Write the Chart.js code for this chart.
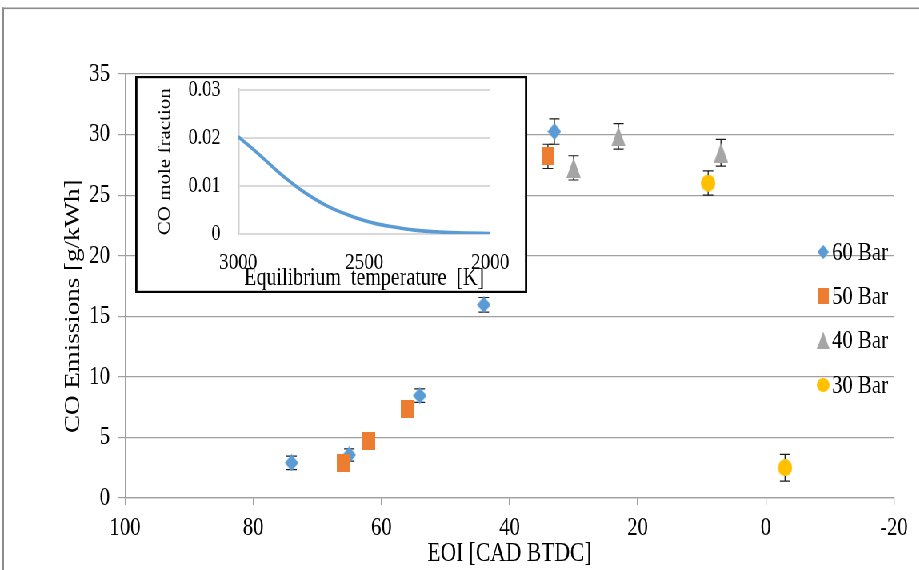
<!DOCTYPE html>
<html>
<head>
<meta charset="utf-8">
<script src="https://cdn.jsdelivr.net/npm/chart.js@4.4.1/dist/chart.umd.min.js"></script>
<style>
html, body { margin: 0; padding: 0; overflow: hidden; background: #fff; width: 919px; height: 570px; }
#wrap { position: absolute; left: 0; top: 0; width: 1149px; height: 570px; transform: scaleX(0.8); transform-origin: 0 0; }
#main { position: absolute; left: 0; top: 0; }
#inset { position: absolute; left: 168.75px; top: 76px; }
</style>
</head>
<body>
<div id="wrap">
  <canvas id="main" width="1149" height="570"></canvas>
  <canvas id="inset" width="490" height="217"></canvas>
</div>
<script>
// ---------------- data ----------------
const seriesLabels = ['60 Bar', '50 Bar', '40 Bar', '30 Bar'];

const eoi60 = [74, 65, 54, 44, 33];
const co60  = [2.9, 3.55, 8.45, 15.95, 30.25];
const err60 = [0.55, 0.5, 0.55, 0.6, 1.05];

const eoi50 = [66, 62, 56, 34];
const co50  = [2.9, 4.7, 7.35, 28.2];
const err50 = [0.4, 0.4, 0.4, 1.0];

const eoi40 = [30, 23, 7];
const co40  = [27.25, 29.85, 28.5];
const err40 = [1.0, 1.05, 1.1];

const eoi30 = [9, -3];
const co30  = [26.0, 2.5];
const err30 = [1.0, 1.1];

const xTicks = [100, 80, 60, 40, 20, 0, -20];
const xTickLabels = ['100', '80', '60', '40', '20', '0', '-20'];
const yTicks = [0, 5, 10, 15, 20, 25, 30, 35];
const yTickLabels = ['0', '5', '10', '15', '20', '25', '30', '35'];

// inset: CO mole fraction vs equilibrium temperature
const insetTemp = [3000, 2950, 2900, 2850, 2800, 2750, 2700, 2650, 2600, 2550, 2500, 2450, 2400, 2300, 2200, 2100, 2000];
const insetFrac = [0.0202, 0.0180, 0.0157, 0.0133, 0.0111, 0.0091, 0.0074, 0.0059, 0.0047, 0.0037, 0.0028, 0.0021, 0.0016, 0.0008, 0.0004, 0.0002, 0.0001];
const insetXTicks = [3000, 2500, 2000];
const insetXTickLabels = ['3000', '2500', '2000'];
const insetYTicks = [0, 0.01, 0.02, 0.03];
const insetYTickLabels = ['0', '0.01', '0.02', '0.03'];

// ---------------- styling ----------------
const SERIF = "'Liberation Serif', 'Times New Roman', serif";
const GRID = '#a0a0a0';
const C60 = '#5b9bd5', C50 = '#ed7d31', C40 = '#a5a5a5', C30 = '#ffc000';

function makeMarker(shape, w, h, color) {
  const c = document.createElement('canvas');
  c.width = w; c.height = h;
  const g = c.getContext('2d');
  g.fillStyle = color;
  g.beginPath();
  if (shape === 'diamond') { g.moveTo(w / 2, 0); g.lineTo(w, h / 2); g.lineTo(w / 2, h); g.lineTo(0, h / 2); }
  else if (shape === 'square') { g.rect(0, 0, w, h); }
  else if (shape === 'triangle') { g.moveTo(w / 2, 0); g.lineTo(w, h); g.lineTo(0, h); }
  else { g.ellipse(w / 2, h / 2, w / 2, h / 2, 0, 0, Math.PI * 2); }
  g.closePath();
  g.fill();
  return c;
}
const mk60 = makeMarker('diamond', 17, 17, C60);
const mk50 = makeMarker('square', 16, 18, C50);
const mk40 = makeMarker('triangle', 18, 20, C40);
const mk30 = makeMarker('circle', 18, 17, C30);

function pts(xs, ys) { return xs.map((x, i) => ({ x: x, y: ys[i] })); }

// ---------------- plugins ----------------
const background = {
  id: 'background',
  beforeDraw(chart) {
    const ctx = chart.ctx;
    ctx.save();
    ctx.fillStyle = '#ffffff';
    ctx.fillRect(0, 0, chart.width, chart.height);
    ctx.restore();
  }
};

const frame = {
  id: 'frame',
  afterDraw(chart) {
    const ctx = chart.ctx;
    ctx.save();
    ctx.fillStyle = '#8c8c8c';
    ctx.fillRect(3, 7.5, chart.width - 3, 1.6);
    ctx.fillRect(3, 7.5, 2, chart.height - 7.5);
    ctx.restore();
  }
};

const errorBars = {
  id: 'errorBars',
  beforeDatasetsDraw(chart) {
    const ctx = chart.ctx, xs = chart.scales.x, ys = chart.scales.y;
    ctx.save();
    ctx.strokeStyle = '#1a1a1a';
    chart.data.datasets.forEach(ds => {
      ds.data.forEach((p, j) => {
        const e = ds.errors[j];
        const px = xs.getPixelForValue(p.x);
        const top = ys.getPixelForValue(p.y + e);
        const bot = ys.getPixelForValue(p.y - e);
        ctx.lineWidth = 1.3;
        ctx.beginPath(); ctx.moveTo(px, top); ctx.lineTo(px, bot); ctx.stroke();
        ctx.lineWidth = 1.2;
        ctx.beginPath();
        ctx.moveTo(px - 6.5, top); ctx.lineTo(px + 6.5, top);
        ctx.moveTo(px - 6.5, bot); ctx.lineTo(px + 6.5, bot);
        ctx.stroke();
      });
    });
    ctx.restore();
  }
};

const legendYs = [252, 296, 340, 385];
const customLegend = {
  id: 'customLegend',
  afterDraw(chart) {
    const ctx = chart.ctx;
    ctx.save();
    ctx.font = '26px ' + SERIF;
    ctx.fillStyle = '#000';
    ctx.textBaseline = 'middle';
    ctx.textAlign = 'left';
    chart.data.datasets.forEach((ds, i) => {
      const y = legendYs[i];
      const m = ds.pointStyle;
      const k = 0.85;
      ctx.drawImage(m, 1029 - m.width * k / 2, y - m.height * k / 2, m.width * k, m.height * k);
      ctx.fillText(ds.label, 1040, y + 1);
    });
    ctx.restore();
  }
};

// ---------------- main chart ----------------
new Chart(document.getElementById('main'), {
  type: 'scatter',
  data: {
    datasets: [
      { label: seriesLabels[0], data: pts(eoi60, co60), errors: err60, pointStyle: mk60, pointRadius: 8, backgroundColor: C60, borderColor: C60, order: 3 },
      { label: seriesLabels[1], data: pts(eoi50, co50), errors: err50, pointStyle: mk50, pointRadius: 8, backgroundColor: C50, borderColor: C50, order: 2 },
      { label: seriesLabels[2], data: pts(eoi40, co40), errors: err40, pointStyle: mk40, pointRadius: 8, backgroundColor: C40, borderColor: C40, order: 1 },
      { label: seriesLabels[3], data: pts(eoi30, co30), errors: err30, pointStyle: mk30, pointRadius: 8, backgroundColor: C30, borderColor: C30, order: 0 }
    ]
  },
  options: {
    responsive: false,
    animation: false,
    devicePixelRatio: 1,
    events: [],
    layout: { padding: { left: 0, right: 31.5, top: 74, bottom: 0 } },
    plugins: { legend: { display: false }, tooltip: { enabled: false } },
    scales: {
      x: {
        type: 'linear', reverse: true, min: -20, max: 100,
        afterBuildTicks: s => { s.ticks = xTicks.map(v => ({ value: v })); },
        afterFit: s => { s.height = 72; },
        grid: { drawOnChartArea: false, drawTicks: true, tickLength: 7, color: GRID, lineWidth: 1.25 },
        border: { color: GRID, width: 1.2 },
        ticks: {
          color: '#000', font: { family: SERIF, size: 26 }, padding: 8, maxRotation: 0, autoSkip: false,
          callback: (v) => xTickLabels[xTicks.indexOf(v)]
        },
        title: { display: true, text: 'EOI [CAD BTDC]', color: '#000', font: { family: SERIF, size: 27 }, padding: { top: 0, bottom: 0 } }
      },
      y: {
        type: 'linear', min: 0, max: 35,
        afterBuildTicks: s => { s.ticks = yTicks.map(v => ({ value: v })); },
        afterFit: s => { s.width = 156.25; },
        grid: { color: GRID, tickLength: 8.75, lineWidth: 1.2 },
        border: { color: GRID, width: 1.25 },
        ticks: {
          color: '#000', font: { family: SERIF, size: 26 }, padding: 10,
          callback: (v) => yTickLabels[yTicks.indexOf(v)]
        },
        title: { display: true, text: 'CO Emissions [g/kWh]      ', color: '#000', font: { family: SERIF, size: 27 }, padding: { top: 76, bottom: 0 } }
      }
    }
  },
  plugins: [background, errorBars, customLegend, frame]
});

// ---------------- inset chart ----------------
const insetBorder = {
  id: 'insetBorder',
  afterDraw(chart) {
    const ctx = chart.ctx, w = chart.width, h = chart.height;
    ctx.save();
    ctx.fillStyle = '#000';
    ctx.fillRect(0, 0, w, 2.2);
    ctx.fillRect(0, h - 2.2, w, 2.2);
    ctx.fillRect(0, 0, 2.8, h);
    ctx.fillRect(w - 2.8, 0, 2.8, h);
    ctx.restore();
  }
};

new Chart(document.getElementById('inset'), {
  type: 'line',
  data: {
    datasets: [{
      label: 'CO mole fraction',
      data: pts(insetTemp, insetFrac),
      borderColor: C60, borderWidth: 3.6, pointRadius: 0, fill: false,
      cubicInterpolationMode: 'monotone'
    }]
  },
  options: {
    responsive: false,
    animation: false,
    devicePixelRatio: 1,
    events: [],
    layout: { padding: { left: 0, right: 46.25, top: 12, bottom: 0 } },
    plugins: { legend: { display: false }, tooltip: { enabled: false } },
    scales: {
      x: {
        type: 'linear', reverse: true, min: 2000, max: 3000,
        afterBuildTicks: s => { s.ticks = insetXTicks.map(v => ({ value: v })); },
        afterFit: s => { s.height = 59; },
        grid: { display: false, drawTicks: false },
        border: { display: false },
        ticks: {
          color: '#000', font: { family: SERIF, size: 24 }, padding: 14, maxRotation: 0, autoSkip: false,
          callback: (v) => insetXTickLabels[insetXTicks.indexOf(v)]
        },
        title: { display: true, text: 'Equilibrium  temperature  [K]', color: '#000', font: { family: SERIF, size: 25 }, padding: { top: 0, bottom: 0 } }
      },
      y: {
        type: 'linear', min: 0, max: 0.03,
        afterBuildTicks: s => { s.ticks = insetYTicks.map(v => ({ value: v })); },
        afterFit: s => { s.width = 128.75; },
        grid: { color: '#d9d9d9', lineWidth: 2, drawTicks: true, tickLength: 20, tickColor: 'rgba(0,0,0,0)' },
        border: { color: '#d0d0d0', width: 2.5 },
        ticks: {
          color: '#000', font: { family: SERIF, size: 23, lineHeight: 1 }, padding: 2,
          callback: (v) => insetYTickLabels[insetYTicks.indexOf(v)]
        },
        title: { display: true, text: 'CO mole fraction', color: '#000', font: { family: SERIF, size: 21 }, padding: { top: 25, bottom: 0 } }
      }
    }
  },
  plugins: [background, insetBorder]
});
</script>
</body>
</html>
